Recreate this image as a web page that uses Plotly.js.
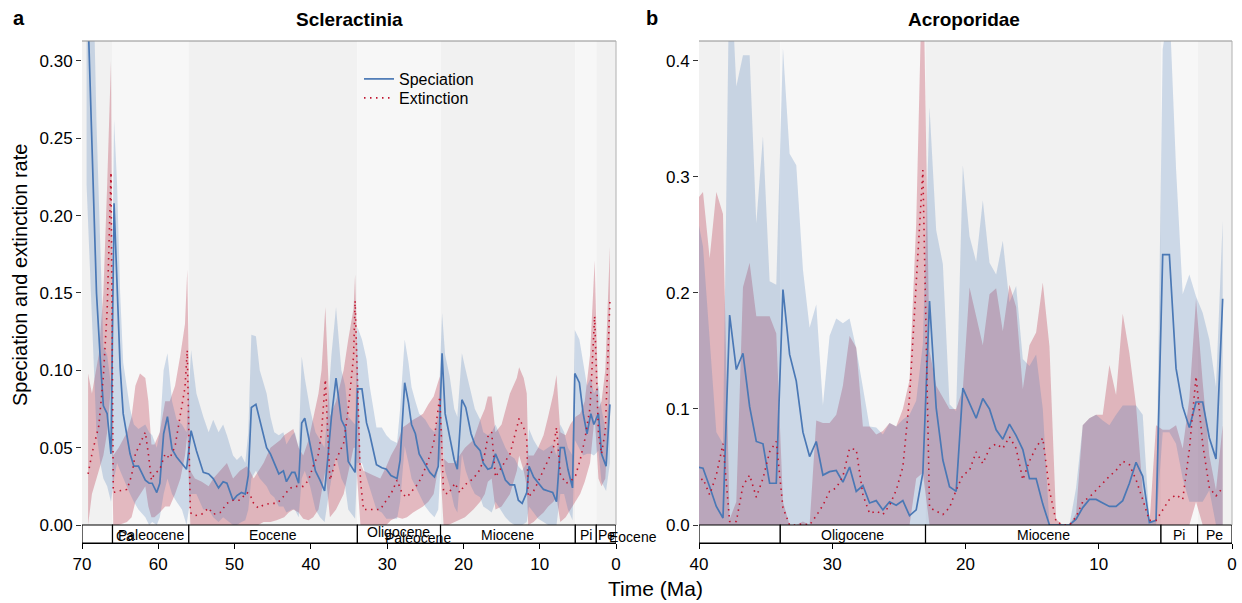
<!DOCTYPE html>
<html>
<head>
<meta charset="utf-8">
<script src="https://cdn.plot.ly/plotly-3.0.1.min.js"></script>
<style>html,body{margin:0;padding:0;background:#fff;}#chart{width:1242px;height:603px;}</style>
</head>
<body>
<div id="chart"></div>
<script>
// ---------------- DATA ----------------
// Epochs (Ma)
const EPOCH_NAMES = ["", "Paleocene", "Eocene", "Oligocene", "Miocene", "Pi", "Pe"];
const EPOCH_START = [70, 66, 56, 33.9, 23, 5.33, 2.58];
const EPOCH_END   = [66, 56, 33.9, 23, 5.33, 2.58, 0];

// Panel a: Scleractinia — speciation
const SCL_SPEC_T = [69.4,68.1,67.6,67.2,66.7,66.2,65.8,65.4,65.0,64.6,
  63.7,63.2,62.6,61.7,61.2,60.8,60.2,59.8,59.3,58.8,
  58.2,57.6,56.9,56.3,55.7,55.0,54.1,53.4,52.8,52.1,
  51.5,51.0,50.2,49.7,49.1,48.6,48.2,47.8,47.2,46.7,
  45.8,45.3,44.8,44.2,43.6,43.2,42.5,42.1,41.6,41.2,
  40.8,40.1,39.4,38.8,38.2,37.8,37.3,36.7,36.0,35.5,
  35.1,34.2,33.9,33.3,32.7,32.3,31.4,30.7,30.1,29.5,
  28.7,28.3,27.7,27.2,26.8,26.3,25.8,25.0,24.4,23.8,
  23.3,22.8,22.4,21.8,21.2,20.8,20.2,19.7,19.0,18.5,
  17.8,17.4,16.8,16.3,15.8,15.2,14.5,13.9,13.3,12.8,
  12.3,11.7,11.4,10.8,10.2,9.5,8.9,8.3,7.8,7.3,
  6.8,6.3,5.7,5.4,4.8,4.3,3.8,3.3,2.9,2.3,
  1.9,1.3,0.8];
const SCL_SPEC = [0.36,0.150,0.107,0.077,0.072,0.046,0.208,0.150,0.102,0.072,
  0.046,0.038,0.038,0.029,0.027,0.027,0.021,0.027,0.059,0.070,
  0.049,0.044,0.040,0.036,0.061,0.048,0.034,0.033,0.030,0.024,
  0.028,0.027,0.016,0.019,0.021,0.020,0.032,0.076,0.078,0.068,
  0.050,0.046,0.040,0.033,0.035,0.028,0.034,0.034,0.027,0.066,
  0.069,0.053,0.035,0.029,0.022,0.042,0.070,0.095,0.068,0.063,
  0.041,0.034,0.088,0.088,0.066,0.059,0.039,0.037,0.036,0.032,
  0.030,0.042,0.092,0.079,0.065,0.059,0.046,0.039,0.034,0.031,
  0.038,0.111,0.072,0.057,0.042,0.036,0.081,0.076,0.059,0.052,
  0.048,0.040,0.036,0.037,0.046,0.039,0.029,0.026,0.026,0.016,
  0.014,0.021,0.038,0.031,0.027,0.023,0.022,0.021,0.015,0.050,
  0.050,0.036,0.024,0.098,0.092,0.072,0.059,0.072,0.065,0.072,
  0.046,0.038,0.078];
const SCL_SPEC_LO = [0.22,0.06,0.04,0.03,0.025,0.015,0.03,0.04,0.035,0.03,
  0.02,0.015,0.01,0.005,0.0,0.002,0.0,0.005,0.02,0.03,
  0.02,0.015,0.01,0.0,0.02,0.02,0.01,0.01,0.005,0.002,
  0.005,0.003,0.0,0.0,0.002,0.003,0.01,0.03,0.035,0.03,
  0.025,0.02,0.018,0.012,0.012,0.008,0.01,0.01,0.005,0.03,
  0.035,0.025,0.01,0.005,0.002,0.015,0.03,0.045,0.03,0.025,
  0.01,0.004,0.04,0.04,0.03,0.025,0.01,0.008,0.004,0.004,
  0.004,0.015,0.051,0.04,0.03,0.025,0.02,0.012,0.008,0.005,
  0.01,0.057,0.035,0.025,0.012,0.008,0.046,0.035,0.025,0.02,
  0.018,0.012,0.01,0.008,0.015,0.01,0.005,0.002,0.0,0.0,
  0.0,0.002,0.012,0.008,0.004,0.002,0.0,0.0,0.0,0.02,
  0.02,0.01,0.003,0.055,0.05,0.045,0.046,0.046,0.045,0.048,
  0.028,0.022,0.04];
const SCL_SPEC_HI = [0.55,0.26,0.18,0.115,0.11,0.09,0.262,0.22,0.15,0.105,
  0.075,0.065,0.062,0.065,0.06,0.058,0.05,0.06,0.10,0.111,
  0.08,0.068,0.065,0.06,0.113,0.085,0.07,0.06,0.068,0.06,
  0.065,0.058,0.045,0.042,0.045,0.04,0.06,0.123,0.122,0.10,
  0.085,0.07,0.06,0.058,0.06,0.052,0.058,0.06,0.05,0.109,
  0.095,0.075,0.06,0.055,0.05,0.075,0.11,0.141,0.10,0.09,
  0.07,0.065,0.128,0.12,0.107,0.09,0.063,0.063,0.058,0.055,
  0.053,0.075,0.12,0.105,0.089,0.08,0.072,0.068,0.063,0.06,
  0.07,0.137,0.11,0.096,0.075,0.07,0.111,0.1,0.085,0.075,
  0.068,0.06,0.058,0.06,0.065,0.058,0.05,0.045,0.043,0.038,
  0.035,0.04,0.062,0.055,0.05,0.048,0.05,0.052,0.045,0.065,
  0.06,0.05,0.045,0.126,0.12,0.105,0.09,0.095,0.085,0.09,
  0.075,0.06,0.095];

// Panel a: Scleractinia — extinction
const SCL_EXT_T = [69.2,68.7,67.8,67.2,66.7,66.2,65.9,65.2,64.1,63.5,
  63.0,62.4,61.7,61.3,60.9,60.5,59.8,59.1,58.5,57.8,
  57.1,56.5,56.2,55.8,55.2,54.3,53.4,52.8,51.9,51.0,
  50.2,49.3,48.4,48.0,47.5,46.9,46.2,45.3,44.5,44.0,
  43.5,42.9,42.3,41.6,41.0,40.3,39.7,39.0,38.6,38.1,
  37.5,36.7,35.7,35.1,34.4,34.2,33.5,33.1,32.2,30.9,
  30.1,29.5,28.7,28.0,27.4,26.6,25.9,25.3,24.6,23.9,
  23.1,22.6,22.0,21.1,20.5,19.8,18.7,17.8,17.2,16.8,
  16.3,15.8,15.0,13.9,13.0,12.7,12.1,11.7,11.5,10.8,
  10.2,9.5,8.9,8.2,7.8,7.3,6.6,6.0,5.3,4.7,
  4.1,3.4,3.0,2.8,2.3,1.9,1.4,1.1,0.8];
const SCL_EXT = [0.033,0.046,0.064,0.096,0.139,0.228,0.021,0.022,0.023,0.032,
  0.046,0.053,0.060,0.046,0.029,0.033,0.036,0.046,0.043,0.051,
  0.072,0.089,0.113,0.008,0.006,0.007,0.011,0.007,0.008,0.014,
  0.016,0.016,0.021,0.020,0.014,0.011,0.013,0.014,0.014,0.016,
  0.019,0.023,0.025,0.025,0.025,0.029,0.038,0.046,0.060,0.094,
  0.029,0.042,0.053,0.075,0.109,0.145,0.029,0.010,0.010,0.010,
  0.016,0.020,0.029,0.020,0.018,0.023,0.027,0.033,0.042,0.053,
  0.083,0.021,0.020,0.027,0.021,0.026,0.030,0.036,0.046,0.057,
  0.060,0.031,0.037,0.046,0.063,0.069,0.063,0.055,0.018,0.022,
  0.028,0.035,0.042,0.050,0.063,0.033,0.027,0.028,0.032,0.042,
  0.055,0.076,0.115,0.135,0.059,0.046,0.061,0.099,0.145];
const SCL_EXT_LO = [0.0,0.02,0.035,0.045,0.06,0.09,0.0,0.0,0.002,0.005,
  0.015,0.02,0.025,0.012,0.005,0.005,0.008,0.012,0.012,0.02,
  0.03,0.045,0.058,0.0,0.0,0.0,0.0,0.0,0.0,0.0,
  0.0,0.0,0.0,0.0,0.0,0.0,0.002,0.002,0.003,0.004,
  0.005,0.008,0.01,0.008,0.004,0.003,0.005,0.01,0.02,0.035,
  0.005,0.01,0.02,0.035,0.05,0.05,0.0,0.0,0.0,0.0,
  0.0,0.003,0.005,0.004,0.005,0.008,0.01,0.012,0.015,0.02,
  0.043,0.0,0.0,0.002,0.003,0.005,0.01,0.015,0.02,0.028,
  0.03,0.01,0.012,0.02,0.035,0.045,0.035,0.025,0.0,0.002,
  0.005,0.008,0.012,0.015,0.018,0.002,0.005,0.01,0.015,0.02,
  0.028,0.04,0.06,0.071,0.03,0.025,0.03,0.06,0.082];
const SCL_EXT_HI = [0.098,0.085,0.11,0.15,0.22,0.30,0.045,0.05,0.06,0.07,
  0.09,0.098,0.095,0.08,0.052,0.052,0.06,0.08,0.08,0.09,
  0.11,0.13,0.165,0.035,0.03,0.028,0.025,0.03,0.035,0.04,
  0.03,0.035,0.038,0.035,0.03,0.035,0.04,0.05,0.053,0.055,
  0.058,0.06,0.062,0.05,0.045,0.055,0.07,0.085,0.1,0.141,
  0.07,0.08,0.1,0.12,0.14,0.162,0.04,0.035,0.033,0.03,
  0.038,0.045,0.052,0.063,0.065,0.068,0.07,0.072,0.078,0.083,
  0.096,0.043,0.04,0.04,0.045,0.05,0.055,0.068,0.075,0.083,
  0.083,0.06,0.065,0.085,0.095,0.102,0.095,0.085,0.045,0.045,
  0.05,0.058,0.07,0.085,0.097,0.06,0.058,0.065,0.07,0.072,
  0.08,0.11,0.15,0.171,0.075,0.08,0.1,0.14,0.18];

// Panel b: Acroporidae
const ACR_T = [40.2,39.7,39.2,38.7,38.2,37.7,37.2,36.7,36.2,35.7,
  35.2,34.7,34.2,33.7,33.2,32.7,32.2,31.7,31.2,30.7,
  30.2,29.7,29.2,28.7,28.2,27.7,27.2,26.7,26.2,25.7,
  25.2,24.7,24.2,23.7,23.2,22.7,22.2,21.7,21.2,20.7,
  20.2,19.7,19.2,18.7,18.2,17.7,17.2,16.7,16.2,15.7,
  15.2,14.7,14.2,13.7,13.2,12.7,12.2,11.7,11.2,10.7,
  10.2,9.7,9.2,8.7,8.2,7.7,7.2,6.7,6.2,5.7,
  5.2,4.7,4.2,3.7,3.2,2.7,2.2,1.7,1.2,0.7];
const ACR_SPEC = [0.050,0.049,0.033,0.016,0.006,0.181,0.134,0.148,0.102,0.072,
  0.070,0.036,0.036,0.203,0.147,0.124,0.080,0.059,0.072,0.043,
  0.046,0.047,0.037,0.050,0.029,0.034,0.019,0.021,0.013,0.020,
  0.017,0.021,0.008,0.013,0.045,0.193,0.101,0.056,0.033,0.029,
  0.118,0.105,0.092,0.109,0.100,0.082,0.074,0.087,0.077,0.065,
  0.040,0.040,0.018,0.0,0.0,0.0,0.0,0.005,0.015,0.022,
  0.022,0.019,0.016,0.016,0.021,0.036,0.054,0.042,0.002,0.004,
  0.233,0.233,0.135,0.102,0.084,0.106,0.106,0.075,0.057,0.195];
const ACR_SPEC_LO = [0,0,0,0,0,0,0,0,0,0,
  0,0,0,0,0,0,0,0,0,0,
  0,0,0,0,0,0,0,0,0,0,
  0,0,0,0,0,0,0,0,0,0,
  0,0,0,0,0,0,0,0,0,0,
  0,0,0,0,0,0,0,0,0,0,
  0,0,0,0,0,0,0,0,0,0,
  0.08,0.08,0.07,0.04,0.02,0.02,0.02,0.03,0.0,0.0];
const ACR_SPEC_HI = [0.27,0.24,0.16,0.08,0.07,0.50,0.378,0.405,0.405,0.26,
  0.335,0.21,0.207,0.411,0.32,0.31,0.22,0.17,0.19,0.103,
  0.163,0.178,0.174,0.178,0.152,0.119,0.085,0.084,0.078,0.088,
  0.085,0.091,0.095,0.107,0.156,0.36,0.254,0.225,0.104,0.098,
  0.31,0.249,0.227,0.28,0.226,0.216,0.245,0.192,0.206,0.143,
  0.137,0.147,0.10,0.0,0.0,0.0,0.0,0.032,0.086,0.092,
  0.095,0.09,0.086,0.095,0.103,0.103,0.103,0.095,0.003,0.003,
  0.41,0.45,0.307,0.199,0.216,0.197,0.183,0.16,0.119,0.262];
const ACR_EXT = [0.036,0.040,0.026,0.043,0.070,0.003,0.003,0.034,0.043,0.024,
  0.040,0.063,0.072,0.015,0.0,0.0,0.001,0.0,0.008,0.017,
  0.029,0.032,0.042,0.066,0.065,0.026,0.010,0.012,0.009,0.017,
  0.030,0.050,0.110,0.210,0.306,0.015,0.012,0.009,0.015,0.030,
  0.043,0.047,0.063,0.053,0.066,0.070,0.066,0.076,0.066,0.039,
  0.055,0.067,0.075,0.030,0.003,0.0,0.0,0.007,0.020,0.024,
  0.030,0.036,0.042,0.047,0.055,0.052,0.039,0.022,0.004,0.004,
  0.013,0.022,0.026,0.022,0.065,0.128,0.070,0.032,0.025,0.032];
const ACR_EXT_LO = [0,0,0,0,0,0,0,0,0,0,
  0,0,0,0,0,0,0,0,0,0,
  0,0,0,0,0,0,0,0,0,0,
  0,0,0,0.04,0.045,0,0,0,0,0,
  0,0,0,0,0,0,0,0,0,0,
  0,0,0,0,0,0,0,0,0,0,
  0,0,0,0,0,0,0,0,0,0,
  0,0,0,0,0,0.02,0,0,0,0];
const ACR_EXT_HI = [0.28,0.287,0.23,0.287,0.268,0.005,0.02,0.205,0.226,0.18,
  0.18,0.18,0.165,0.02,0.0,0.0,0.003,0.0,0.09,0.088,
  0.088,0.095,0.12,0.163,0.153,0.085,0.085,0.078,0.081,0.088,
  0.085,0.10,0.125,0.26,0.50,0.15,0.12,0.11,0.10,0.10,
  0.117,0.205,0.18,0.155,0.199,0.204,0.167,0.207,0.188,0.117,
  0.155,0.166,0.209,0.154,0.005,0.0,0.0,0.01,0.086,0.092,
  0.095,0.095,0.138,0.112,0.182,0.148,0.103,0.03,0.0,0.086,
  0.082,0.082,0.086,0.066,0.109,0.195,0.123,0.06,0.03,0.086];

// ---------------- STYLE / LAYOUT ----------------
const W = 1242, H = 603;
const px = x => x / W;
const py = y => 1 - y / H;
const FONT = "Liberation Sans, Arial, Helvetica, sans-serif";
const BLUE = "#4a78b5", RED = "#c0152f";
const BLUE_FILL = "rgba(74,122,182,0.25)", RED_FILL = "rgba(175,25,50,0.28)";
const BAND_DARK = "#f1f1f1", BAND_LIGHT = "#f7f7f7";

const Y1 = [-0.01164, 0.3129];
const Y2 = [-0.01552, 0.4172];

function panelTraces(xa, ya, tS, s, sLo, sHi, tE, e, eLo, eHi, legS, legE) {
  return [
    {x: tE, y: eLo, xaxis: xa, yaxis: ya, type: "scatter", mode: "lines", line: {width: 0, color: "rgba(0,0,0,0)"}, showlegend: false, hoverinfo: "skip"},
    {x: tE, y: eHi, xaxis: xa, yaxis: ya, type: "scatter", mode: "lines", fill: "tonexty", fillcolor: RED_FILL, line: {width: 0, color: "rgba(0,0,0,0)"}, showlegend: false, hoverinfo: "skip"},
    {x: tS, y: sLo, xaxis: xa, yaxis: ya, type: "scatter", mode: "lines", line: {width: 0, color: "rgba(0,0,0,0)"}, showlegend: false, hoverinfo: "skip"},
    {x: tS, y: sHi, xaxis: xa, yaxis: ya, type: "scatter", mode: "lines", fill: "tonexty", fillcolor: BLUE_FILL, line: {width: 0, color: "rgba(0,0,0,0)"}, showlegend: false, hoverinfo: "skip"},
    {x: tS, y: s, xaxis: xa, yaxis: ya, type: "scatter", mode: "lines", name: "Speciation", line: {color: BLUE, width: 1.7}, showlegend: legS, legend: "legend"},
    {x: tE, y: e, xaxis: xa, yaxis: ya, type: "scatter", mode: "lines", name: "Extinction", line: {color: RED, width: 1.6, dash: "1.5px,4.5px"}, showlegend: legE, legend: "legend2"}
  ];
}

const data = [].concat(
  panelTraces("x", "y", SCL_SPEC_T, SCL_SPEC, SCL_SPEC_LO, SCL_SPEC_HI, SCL_EXT_T, SCL_EXT, SCL_EXT_LO, SCL_EXT_HI, true, true),
  panelTraces("x2", "y2", ACR_T, ACR_SPEC, ACR_SPEC_LO, ACR_SPEC_HI, ACR_T, ACR_EXT, ACR_EXT_LO, ACR_EXT_HI, false, false)
);

const shapes = [];
const annotations = [];
function ann(o) {
  return Object.assign({showarrow: false, xanchor: "center", yanchor: "middle", font: {family: FONT, size: 14, color: "#000"}}, o);
}
function addPanelDecor(xref, yrange, tmax, pxLeft, pxRight) {
  for (let i = 0; i < EPOCH_START.length; i++) {
    const clipped = EPOCH_START[i] > tmax;
    const a = Math.min(EPOCH_START[i], tmax), b = EPOCH_END[i];
    if (a <= b) continue;
    const dark = (i % 2 === 0);
    shapes.push({type: "rect", xref: xref, yref: xref === "x" ? "y" : "y2", x0: a, x1: b, y0: 0, y1: yrange[1], fillcolor: dark ? BAND_DARK : BAND_LIGHT, line: {width: 0}, layer: "below"});
    shapes.push({type: "rect", xref: xref, yref: xref === "x" ? "y" : "y2", x0: a, x1: b, y0: yrange[0], y1: 0, fillcolor: "#ffffff", line: {width: 1.2, color: "#000"}, layer: "above"});
    if (EPOCH_NAMES[i] && !clipped) {
      const yy = (EPOCH_NAMES[i] === "Oligocene" && xref === "x") ? 532 : 535;
      annotations.push(ann({xref: xref, yref: "paper", x: (a + b) / 2, y: py(yy), text: EPOCH_NAMES[i]}));
    }
  }
  // grey frame (top, right)
  shapes.push({type: "line", xref: "paper", yref: "paper", x0: px(pxLeft), x1: px(pxRight), y0: py(41), y1: py(41), line: {color: "#8f8f8f", width: 1.2}});
  shapes.push({type: "line", xref: "paper", yref: "paper", x0: px(pxRight), x1: px(pxRight), y0: py(41), y1: py(525), line: {color: "#b0b0b0", width: 1}});
}
addPanelDecor("x", Y1, 70, 82, 616);
addPanelDecor("x2", Y2, 40, 699, 1232);

// stray overlapping epoch labels, as printed in the original figure
annotations.push(ann({xref: "x", yref: "paper", x: 64.3, y: py(536), text: "Ca"}));
annotations.push(ann({xref: "x", yref: "paper", x: 25.95, y: py(538), text: "Paleocene"}));
annotations.push(ann({xref: "paper", yref: "paper", x: px(633), y: py(537), text: "Eocene"}));

// titles
annotations.push(ann({xref: "paper", yref: "paper", x: px(349), y: py(20), text: "<b>Scleractinia</b>", font: {family: FONT, size: 19, color: "#000"}}));
annotations.push(ann({xref: "paper", yref: "paper", x: px(964), y: py(20), text: "<b>Acroporidae</b>", font: {family: FONT, size: 19, color: "#000"}}));
annotations.push(ann({xref: "paper", yref: "paper", x: px(19), y: py(18), text: "<b>a</b>", font: {family: FONT, size: 20, color: "#000"}}));
annotations.push(ann({xref: "paper", yref: "paper", x: px(652), y: py(18), text: "<b>b</b>", font: {family: FONT, size: 20, color: "#000"}}));
annotations.push(ann({xref: "paper", yref: "paper", x: px(20), y: py(275), text: "Speciation and extinction rate", textangle: -90, font: {family: FONT, size: 20, color: "#000"}}));
annotations.push(ann({xref: "paper", yref: "paper", x: px(655), y: py(588), text: "Time (Ma)", font: {family: FONT, size: 21, color: "#000"}}));

const yDomain = [py(543), py(41)];
const tickFont = {family: FONT, size: 17, color: "#000"};
const legendBase = {xanchor: "left", yanchor: "top", bgcolor: "rgba(0,0,0,0)", font: {family: FONT, size: 16, color: "#000"}, tracegroupgap: 0, itemwidth: 30, traceorder: "normal"};
const layout = {
  width: W, height: H,
  margin: {l: 0, r: 0, t: 0, b: 0, pad: 0},
  paper_bgcolor: "#fff", plot_bgcolor: "#fff",
  showlegend: true,
  legend: Object.assign({x: px(359), y: py(62)}, legendBase),
  legend2: Object.assign({x: px(359), y: py(81)}, legendBase),
  xaxis: {domain: [px(82), px(616)], range: [70, 0], tickvals: [70, 60, 50, 40, 30, 20, 10, 0], ticks: "outside", ticklen: 5, tickcolor: "#000", showline: true, linecolor: "#000", linewidth: 1.2, showgrid: false, zeroline: false, tickfont: tickFont, anchor: "y", fixedrange: true},
  yaxis: {domain: yDomain, range: Y1, tickvals: [0, 0.05, 0.10, 0.15, 0.20, 0.25, 0.30], tickformat: ".2f", ticks: "outside", ticklen: 5, tickcolor: "#333", showline: false, showgrid: false, zeroline: false, tickfont: tickFont, anchor: "x", fixedrange: true},
  xaxis2: {domain: [px(699), px(1232)], range: [40, 0], tickvals: [40, 30, 20, 10, 0], ticks: "outside", ticklen: 5, tickcolor: "#000", showline: true, linecolor: "#000", linewidth: 1.2, showgrid: false, zeroline: false, tickfont: tickFont, anchor: "y2", fixedrange: true},
  yaxis2: {domain: yDomain, range: Y2, tickvals: [0, 0.1, 0.2, 0.3, 0.4], tickformat: ".1f", ticks: "outside", ticklen: 5, tickcolor: "#333", showline: false, showgrid: false, zeroline: false, tickfont: tickFont, anchor: "x2", fixedrange: true},
  shapes: shapes,
  annotations: annotations
};

Plotly.newPlot("chart", data, layout, {displayModeBar: false, staticPlot: true});
</script>
</body>
</html>
